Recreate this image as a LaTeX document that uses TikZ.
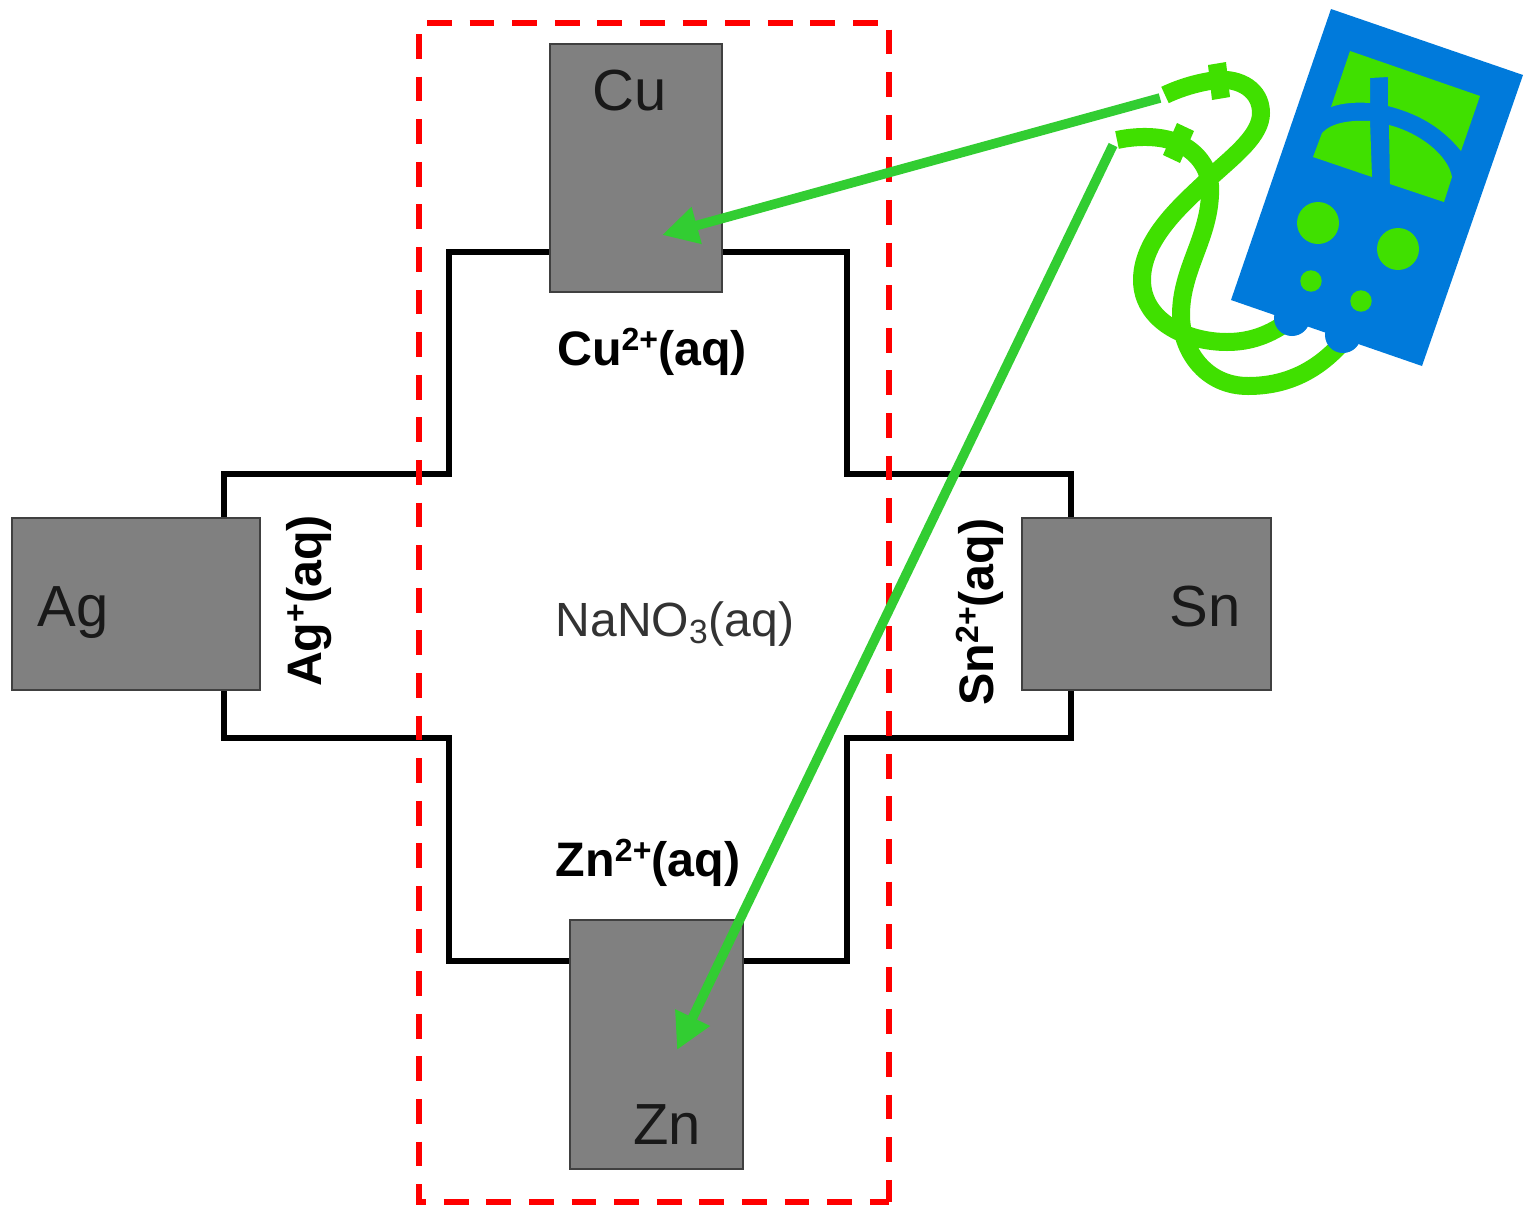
\documentclass[tikz,border=0pt]{standalone}
\usepackage{fontspec}
\setmainfont{Liberation Sans}
\usepackage{xcolor}
\usetikzlibrary{
    arrows.meta,
    calc,
    positioning
}
\definecolor{probe}{HTML}{32CD32}
\definecolor{lead}{HTML}{40E000}
\definecolor{meter}{HTML}{007ADB}
\newcommand{\ionsup}[1]{\raisebox{7.5pt}{\fontsize{16}{16}\selectfont #1}}
\tikzset{metal/.style={draw=black!75, fill=black!50, line width=1.2pt, inner sep=0pt}}
\tikzset{bigtxt/.style={inner sep=0pt, text=black!90, font=\fontsize{29}{29}\selectfont}}
\tikzset{iontxt/.style={inner sep=0pt, font=\bfseries\fontsize{24.2}{24.2}\selectfont}}
\tikzset{wire/.style={draw=lead, line width=9pt}}
\tikzset{plug/.style={fill=lead}}
\tikzset{probeline/.style={draw=probe, line width=4.8pt, -{Triangle[length=18pt, width=18pt]}}}
\tikzset{dashline/.style={red, line width=3pt, dash pattern=on 12.4pt off 8.9pt}}

\begin{document}
\begin{tikzpicture}[x=0.5pt, y=-0.5pt]
                        \useasboundingbox (0, 0) rectangle (1528, 1211);

                        \draw[line width=2.8pt, line join=miter]
                        (550, 252) -- (449, 252) -- (449, 474) -- (224, 474) -- (224, 518)
                        (224, 690) -- (224, 738) -- (449, 738) -- (449, 961) -- (570, 961)
                        (743, 961) -- (847, 961) -- (847, 738) -- (1071, 738) -- (1071, 690)
                        (1071, 518) -- (1071, 474) -- (847, 474) -- (847, 252) -- (722, 252);

                        \node[metal, minimum width=86pt, minimum height=124pt] (cu) at (636, 168) {};
                        \node[metal, minimum width=124pt, minimum height=86pt] (ag) at (136, 604) {};
                        \node[metal, minimum width=124.5pt, minimum height=86pt] (sn) at (1146.5, 604) {};
                        \node[metal, minimum width=86.5pt, minimum height=124.5pt] (zn) at (656.5, 1044.5) {};

                        \node[bigtxt] (culbl) at (630, 91) {Cu};
                        \node[bigtxt] (aglbl) at (73, 613) {Ag};
                        \node[bigtxt] (snlbl) at (1205, 607) {Sn};
                        \node[bigtxt] (znlbl) at (667, 1125) {Zn};

                        \node[iontxt] (cuion) at (652, 352) {Cu\ionsup{2+}(aq)};
                        \node[iontxt] (znion) at (648, 863) {Zn\ionsup{2+}(aq)};
                        \node[iontxt, rotate=90] (agion) at (309, 601) {Ag\ionsup{+}(aq)};
                        \node[iontxt, rotate=90] (snion) at (980, 612) {Sn\ionsup{2+}(aq)};
                        \node[inner sep=0pt, text=black!80, font=\fontsize{24}{24}\selectfont] (salt) at (675, 624) {NaNO\textsubscript{3}(aq)};

                        \draw[dashline] (427, 23) -- (889, 23) -- (889, 1202);
                        \draw[dashline] (419, 34) -- (419, 1202) -- (889, 1202);

                        % leads
                        \draw[wire] (1165, 95) .. controls (1182, 87) and (1200, 82) .. (1217, 80)
                        .. controls (1240, 78) and (1261, 90) .. (1261, 113)
                        .. controls (1261, 135) and (1235, 155) .. (1213, 175)
                        .. controls (1190, 198) and (1142, 235) .. (1142, 280)
                        .. controls (1142, 320) and (1185, 342) .. (1227, 342)
                        .. controls (1250, 342) and (1270, 335) .. (1290, 320);
                        \draw[wire] (1117, 140) .. controls (1135, 136) and (1160, 135) .. (1178, 143)
                        .. controls (1198, 152) and (1212, 170) .. (1210, 195)
                        .. controls (1208, 240) and (1181, 270) .. (1181, 315)
                        .. controls (1181, 350) and (1205, 386) .. (1248, 386)
                        .. controls (1285, 386) and (1315, 372) .. (1340, 345);
                        \fill[plug] (1208, 65) -- (1226, 62) -- (1230, 97) -- (1212, 100) -- cycle;
                        \fill[plug] (1177, 123) -- (1194, 131) -- (1180, 163) -- (1163, 155) -- cycle;

                        % meter
                        \fill[meter] (1331, 9) -- (1523, 75) -- (1422, 366) -- (1231, 300) -- cycle;
                        \fill[meter] (1292, 318) circle (18) (1343, 335) circle (18);
                        \fill[lead] (1350, 51) -- (1480, 96) -- (1461, 151) .. controls (1440, 125) and (1415, 113) .. (1388, 106) -- (1388, 77) -- (1370, 78) -- (1370, 103) .. controls (1355, 102) and (1342, 103) .. (1331, 107) -- cycle;
                        \fill[lead] (1322, 133) .. controls (1332, 122) and (1352, 120) .. (1370, 121) -- (1372, 177) -- (1313, 157) -- cycle;
                        \fill[lead] (1389, 125) .. controls (1420, 133) and (1448, 155) .. (1452, 177) -- (1444, 202) -- (1390, 184) -- cycle;
                        \fill[lead] (1318, 223) circle (21) (1398, 249) circle (21) (1311, 281) circle (10.7) (1361, 301) circle (10.7);

                        % probes
                        \coordinate (top) at (1160, 98);
                        \coordinate (bot) at (1113, 145);
                        \coordinate (cutip) at (662, 235);
                        \coordinate (zntip) at (677, 1050);
                        \draw[probeline] (top) -- (cutip);
                        \draw[probeline] (bot) -- (zntip);
                    \end{tikzpicture}
\end{document}
